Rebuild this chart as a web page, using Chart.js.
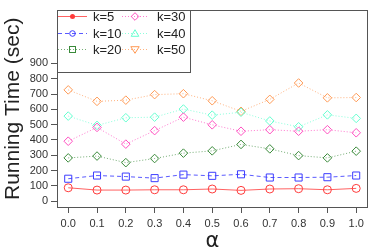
<!DOCTYPE html>
<html>
<head>
<meta charset="utf-8">
<script src="https://cdn.jsdelivr.net/npm/chart.js@4.4.1/dist/chart.umd.min.js"></script>
<style>
  html,body{margin:0;padding:0;background:#fff;}
  #wrap{width:374px;height:249px;position:relative;}
</style>
</head>
<body>
<div id="wrap"><canvas id="c"></canvas></div>
<script>
/* ---------- data ---------- */
const alphas = [0.0,0.1,0.2,0.3,0.4,0.5,0.6,0.7,0.8,0.9,1.0];
const yTicks = [0,100,200,300,400,500,600,700,800,900];
const seriesLabels = ['k=5','k=10','k=20','k=30','k=40','k=50'];
const k5  = [88,73,73,75,75,80,71,80,82,75,84];
const k10 = [147,168,161,151,174,166,176,155,155,157,168];
const k20 = [283,295,252,279,314,329,371,342,298,283,327];
const k30 = [392,482,373,461,549,499,457,467,457,467,447];
const k40 = [556,495,545,549,602,562,581,524,486,564,541];
const k50 = [727,652,660,696,702,656,587,665,772,675,677];

/* ---------- styles ---------- */
const colors   = ['#ff3b3b','#3d3dff','#3a8a3a','#ff4fc0','#66ffd0','#ff9a55'];
const lineCols = ['rgba(255,59,59,.8)','rgba(61,61,255,.85)','rgba(58,138,58,.7)','rgba(255,79,192,.75)','rgba(102,255,208,.75)','rgba(255,154,85,.75)'];
const dashes   = [[],[4,3],[1,2],[1,2],[1,2],[1,2]];
const plotPts  = ['circle','rect','rectRot','rectRot','rectRot','rectRot'];
const plotRad  = [4,5,4.3,4.3,4.3,4.3];
const legPts   = ['dot','circle','rect','rectRot','triangle','triDown'];

const allData = [k5,k10,k20,k30,k40,k50];
const datasets = allData.map((d,i)=>({
  label: seriesLabels[i],
  data: d.map((v,j)=>({x:alphas[j],y:v})),
  borderColor: lineCols[i],
  borderWidth: 1,
  borderDash: dashes[i],
  pointStyle: plotPts[i],
  pointRadius: plotRad[i],
  pointBorderColor: colors[i],
  pointBackgroundColor: 'rgba(0,0,0,0)',
  pointBorderWidth: 1,
  tension: 0
}));

/* ---------- frame + legend ---------- */
const frame = {
  id:'frame',
  afterDraw(chart){
    const {ctx,chartArea:a} = chart;
    ctx.save();
    ctx.strokeStyle='#555';
    ctx.lineWidth=1;
    ctx.strokeRect(Math.round(a.left)+0.5,Math.round(a.top)+0.5,Math.round(a.right-a.left)-1,Math.round(a.bottom-a.top)-1);
    // legend box
    const lx=Math.round(a.left)+0.5, ly=Math.round(a.top)+0.5;
    ctx.fillStyle='#fff';
    ctx.fillRect(lx,ly,133,62);
    ctx.strokeRect(lx,ly,133,62);
    const rows=[16,33,49], cols=[{l0:58,l1:87,m:72.5,t:93},{l0:122,l1:148,m:135,t:157}];
    ctx.font='13px "Liberation Sans", Arial, sans-serif';
    ctx.textBaseline='middle';
    seriesLabels.forEach((lab,i)=>{
      const c=cols[Math.floor(i/3)], y=rows[i%3]+0.5;
      ctx.strokeStyle=lineCols[i];
      ctx.setLineDash(dashes[i]);
      ctx.beginPath();ctx.moveTo(c.l0,y);ctx.lineTo(c.l1,y);ctx.stroke();
      ctx.setLineDash([]);
      ctx.strokeStyle=colors[i];
      const m=c.m, s=legPts[i];
      ctx.beginPath();
      if(s==='dot'){ctx.fillStyle=colors[i];ctx.arc(m,y,2.5,0,Math.PI*2);ctx.fill();}
      else if(s==='circle'){ctx.arc(m,y,2.8,0,Math.PI*2);ctx.stroke();}
      else if(s==='rect'){ctx.strokeRect(m-3,y-3,6,6);}
      else if(s==='rectRot'){ctx.moveTo(m,y-3.8);ctx.lineTo(m+3.8,y);ctx.lineTo(m,y+3.8);ctx.lineTo(m-3.8,y);ctx.closePath();ctx.stroke();}
      else if(s==='triangle'){ctx.moveTo(m,y-3.8);ctx.lineTo(m+3.8,y+2.8);ctx.lineTo(m-3.8,y+2.8);ctx.closePath();ctx.stroke();}
      else if(s==='triDown'){ctx.moveTo(m,y+3.8);ctx.lineTo(m+4.2,y-2.8);ctx.lineTo(m-4.2,y-2.8);ctx.closePath();ctx.stroke();}
      ctx.fillStyle='#222';
      ctx.fillText(lab,c.t,y+0.5);
    });
    ctx.restore();
  }
};

new Chart(document.getElementById('c'),{
  type:'line',
  data:{datasets},
  plugins:[frame],
  options:{
    responsive:true,
    maintainAspectRatio:false,
    animation:false,
    layout:{padding:{left:0,right:2,top:1,bottom:0}},
    plugins:{legend:{display:false},tooltip:{enabled:false}},
    scales:{
      x:{
        type:'linear',min:-0.039,max:1.041,
        afterBuildTicks:s=>{s.ticks=alphas.map(v=>({value:v}));},
        afterFit:s=>{s.height=41;},
        grid:{display:true,drawOnChartArea:false,drawTicks:true,tickLength:5,color:'#555'},
        border:{display:false},
        ticks:{color:'#333',padding:4,maxRotation:0,autoSkip:false,font:{size:11,family:'"Liberation Sans", Arial, sans-serif'},callback:v=>v.toFixed(1)},
        title:{display:true,text:'α',color:'#222',padding:{top:0,bottom:0},font:{size:21,lineHeight:0.75,family:'"DejaVu Sans", "Liberation Sans", sans-serif'}}
      },
      y:{
        min:-44,max:1251,
        afterBuildTicks:s=>{s.ticks=yTicks.map(v=>({value:v}));},
        afterFit:s=>{s.width=57;},
        grid:{display:true,drawOnChartArea:false,drawTicks:true,tickLength:6,color:'#555'},
        border:{display:false},
        ticks:{color:'#333',padding:3,autoSkip:false,font:{size:11,family:'"Liberation Sans", Arial, sans-serif'}},
        title:{display:true,text:'Running Time (sec)',color:'#222',padding:{top:1,bottom:0},font:{size:21,family:'"Liberation Sans", Arial, sans-serif'}}
      }
    }
  }
});
</script>
</body>
</html>
